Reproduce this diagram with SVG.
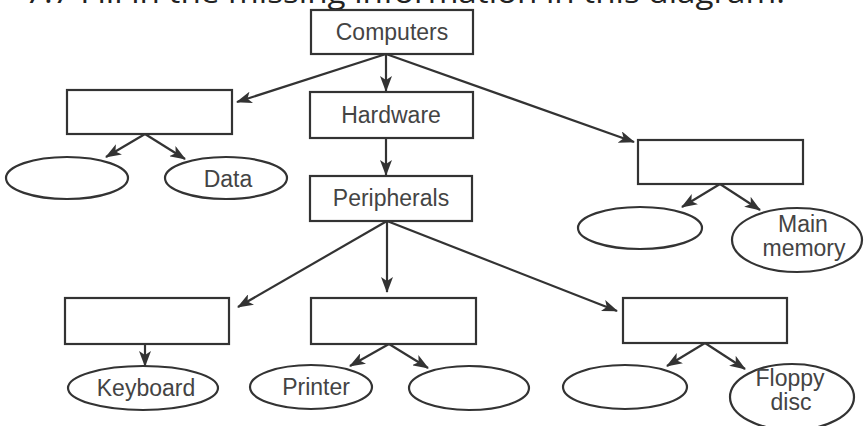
<svg xmlns="http://www.w3.org/2000/svg" width="867" height="426" viewBox="0 0 867 426">
<style>
.box{fill:#fff;stroke:#333;stroke-width:2.2}
.ell{fill:#fff;stroke:#333;stroke-width:2.2}
.lbl{font-family:"Liberation Sans",Arial,sans-serif;font-size:23px;fill:#444;text-anchor:middle}
.conn{stroke:#333;stroke-width:2.2;fill:none;marker-end:url(#ah)}
.head{font-family:"Open Sans","DejaVu Sans",sans-serif;font-size:30px;fill:#222}
</style>
<defs>
<marker id="ah" viewBox="0 0 16 12" refX="15" refY="6" markerWidth="16" markerHeight="12" markerUnits="userSpaceOnUse" orient="auto">
<path d="M0,0 L16,6 L0,12 L4,6 Z" fill="#333"/>
</marker>
</defs>
<rect width="867" height="426" fill="#fff"/>
<text class="head" x="25" y="3" textLength="760" lengthAdjust="spacingAndGlyphs">7.7  Fill in the missing information in this diagram.</text>

<g id="connectors">
<line class="conn" x1="386" y1="54" x2="386" y2="91"/>
<line class="conn" x1="386" y1="54" x2="237" y2="102"/>
<line class="conn" x1="386" y1="54" x2="634" y2="142"/>
<line class="conn" x1="386" y1="138" x2="386" y2="175"/>
<line class="conn" x1="145" y1="134" x2="106" y2="157"/>
<line class="conn" x1="145" y1="134" x2="185" y2="159"/>
<line class="conn" x1="720" y1="184" x2="682" y2="207"/>
<line class="conn" x1="720" y1="184" x2="760" y2="210"/>
<line class="conn" x1="387" y1="221" x2="238" y2="307"/>
<line class="conn" x1="387" y1="221" x2="387" y2="292"/>
<line class="conn" x1="387" y1="221" x2="617" y2="311"/>
<line class="conn" x1="145" y1="344" x2="145" y2="366"/>
<line class="conn" x1="389" y1="344" x2="350" y2="366"/>
<line class="conn" x1="389" y1="344" x2="428" y2="368"/>
<line class="conn" x1="705" y1="343" x2="667" y2="366"/>
<line class="conn" x1="705" y1="343" x2="745" y2="369"/>
</g>

<g id="computers"><rect class="box" x="311" y="10" width="162" height="44"/><text class="lbl" x="392" y="40">Computers</text></g>
<g id="hardware"><rect class="box" x="310" y="92" width="163" height="46"/><text class="lbl" x="391" y="123">Hardware</text></g>
<g id="peripherals"><rect class="box" x="310" y="176" width="162" height="45"/><text class="lbl" x="391" y="206">Peripherals</text></g>

<g id="box-left-top"><rect class="box" x="67" y="90" width="165" height="44"/></g>
<g id="ell-blank-1"><ellipse class="ell" cx="67" cy="178" rx="61" ry="21"/></g>
<g id="ell-data"><ellipse class="ell" cx="226" cy="178" rx="61" ry="21"/><text class="lbl" x="228" y="187">Data</text></g>

<g id="box-right-top"><rect class="box" x="638" y="140" width="165" height="44"/></g>
<g id="ell-blank-2"><ellipse class="ell" cx="640" cy="228" rx="62" ry="21"/></g>
<g id="ell-main-memory"><ellipse class="ell" cx="797" cy="240" rx="65" ry="32"/><text class="lbl" x="803" y="232">Main</text><text class="lbl" x="804" y="256">memory</text></g>

<g id="box-bottom-left"><rect class="box" x="65" y="298" width="164" height="46"/></g>
<g id="box-bottom-mid"><rect class="box" x="311" y="298" width="165" height="46"/></g>
<g id="box-bottom-right"><rect class="box" x="623" y="298" width="164" height="45"/></g>

<g id="ell-keyboard"><ellipse class="ell" cx="143" cy="388" rx="75" ry="22"/><text class="lbl" x="146" y="396">Keyboard</text></g>
<g id="ell-printer"><ellipse class="ell" cx="311" cy="387" rx="61" ry="22"/><text class="lbl" x="316" y="395">Printer</text></g>
<g id="ell-blank-3"><ellipse class="ell" cx="469" cy="388" rx="60" ry="22"/></g>
<g id="ell-blank-4"><ellipse class="ell" cx="625" cy="387" rx="62" ry="22"/></g>
<g id="ell-floppy"><ellipse class="ell" cx="792" cy="397" rx="62" ry="33"/><text class="lbl" x="790" y="386">Floppy</text><text class="lbl" x="791" y="410">disc</text></g>
</svg>
